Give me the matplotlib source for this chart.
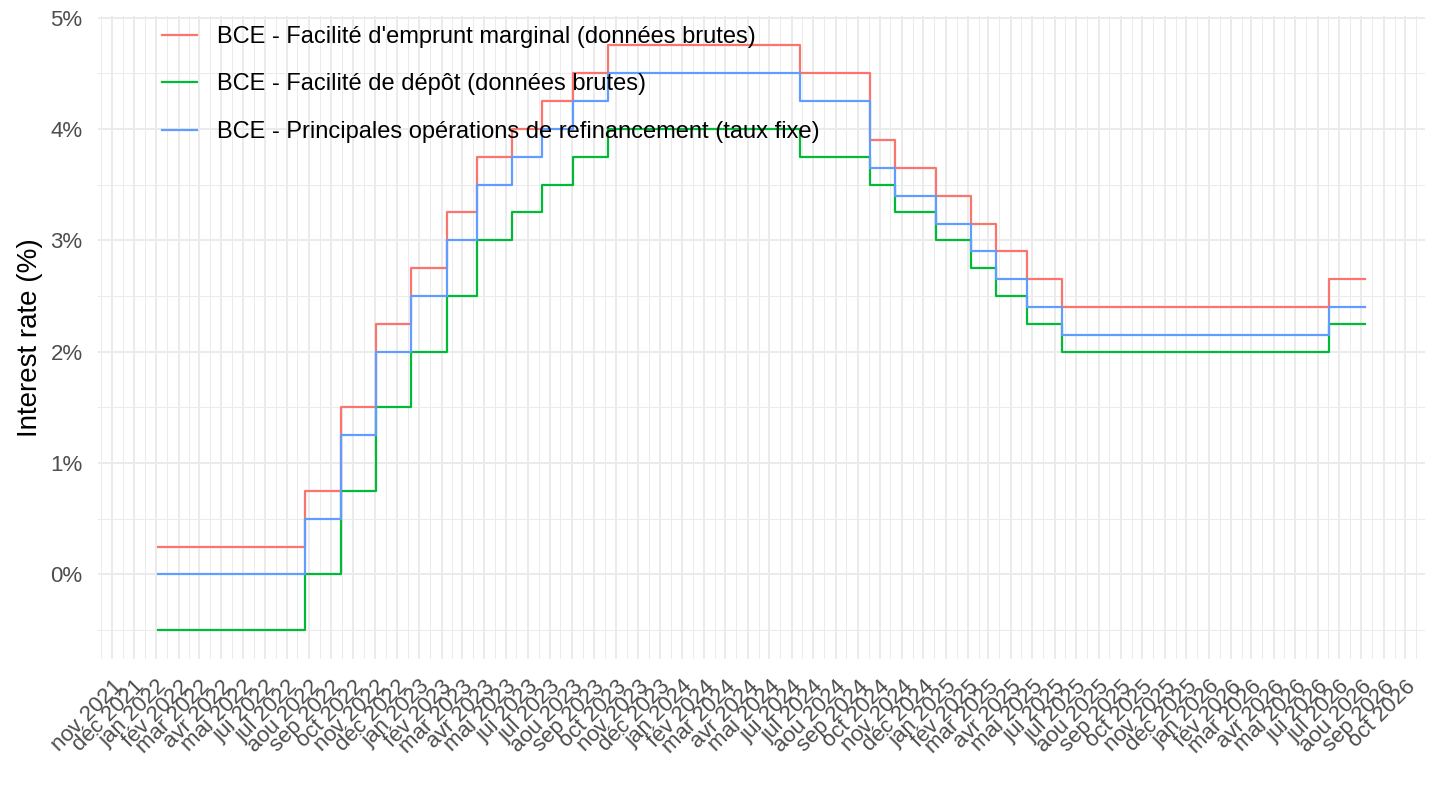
import datetime as dt
import matplotlib
matplotlib.use("Agg")
import matplotlib.pyplot as plt
import matplotlib.dates as mdates
from matplotlib.ticker import FuncFormatter, MultipleLocator

plt.rcParams['font.family'] = ['Liberation Sans', 'DejaVu Sans']

# ECB rates, step changes (effective dates)
start = dt.date(2022, 1, 3)
end = dt.date(2026, 8, 6)
change_dates = ["2022-07-27", "2022-09-14", "2022-11-02", "2022-12-21", "2023-02-08",
                "2023-03-22", "2023-05-10", "2023-06-21", "2023-08-02", "2023-09-20",
                "2024-06-12", "2024-09-18", "2024-10-23", "2024-12-18", "2025-02-05",
                "2025-03-12", "2025-04-23", "2025-06-11", "2026-06-17"]

mlf = [0.25, 0.75, 1.5, 2.25, 2.75, 3.25, 3.75, 4.0, 4.25, 4.5, 4.75,
       4.5, 3.9, 3.65, 3.4, 3.15, 2.9, 2.65, 2.4, 2.65]
df_rate = [-0.5, 0.0, 0.75, 1.5, 2.0, 2.5, 3.0, 3.25, 3.5, 3.75, 4.0,
           3.75, 3.5, 3.25, 3.0, 2.75, 2.5, 2.25, 2.0, 2.25]
mro = [0.0, 0.5, 1.25, 2.0, 2.5, 3.0, 3.5, 3.75, 4.0, 4.25, 4.5,
       4.25, 3.65, 3.4, 3.15, 2.9, 2.65, 2.4, 2.15, 2.4]

labels = ["BCE - Facilité d'emprunt marginal (données brutes)",
          "BCE - Facilité de dépôt (données brutes)",
          "BCE - Principales opérations de refinancement (taux fixe)"]
colors = ["#F8766D", "#00BA38", "#619CFF"]

month_names = ["jan", "fév", "mar", "avr", "mai", "jui", "jul", "aou", "sep", "oct", "nov", "déc"]

dates = [start] + [dt.date.fromisoformat(d) for d in change_dates] + [end]

fig = plt.figure(figsize=(14.4, 8.1), dpi=100)
ax = fig.add_axes([0.068, 0.186, 0.9215, 0.794])

for vals, lab, col in zip([mlf, df_rate, mro], labels, colors):
    ax.step(dates, vals + [vals[-1]], where='post', color=col, lw=1.6, label=lab)

# ggplot-like expansion of 5%
span = (end - start).days
ax.set_xlim(start - dt.timedelta(days=span * 0.05), end + dt.timedelta(days=span * 0.05))
ymin, ymax = -0.5, 4.75
ax.set_ylim(ymin - 0.05 * (ymax - ymin), ymax + 0.05 * (ymax - ymin))

ax.xaxis.set_major_locator(mdates.MonthLocator())
ax.xaxis.set_minor_locator(mdates.MonthLocator(bymonthday=16))
ax.xaxis.set_major_formatter(FuncFormatter(
    lambda x, pos: "%s %d" % (month_names[mdates.num2date(x).month - 1], mdates.num2date(x).year)))
ax.yaxis.set_major_locator(MultipleLocator(1))
ax.yaxis.set_minor_locator(MultipleLocator(0.5))
ax.yaxis.set_major_formatter(FuncFormatter(lambda y, pos: "%d%%" % round(y)))

ax.grid(which='major', color='#EBEBEB', lw=1.4)
ax.grid(which='minor', color='#EBEBEB', lw=0.7)
ax.set_axisbelow(True)
for s in ax.spines.values():
    s.set_visible(False)
ax.tick_params(which='both', length=0, colors='#4D4D4D', labelsize=16)
ax.tick_params(axis='y', pad=11)
ax.tick_params(axis='x', pad=12)
for t in ax.get_xticklabels():
    t.set_rotation(45)
    t.set_ha('right')
    t.set_va('top')
    t.set_rotation_mode('anchor')

ax.set_ylabel("Interest rate (%)", fontsize=20, color='black', labelpad=5)

leg = ax.legend(loc='upper left', bbox_to_anchor=(0.048, 0.985), frameon=False,
                fontsize=17, handlelength=1.5, handletextpad=0.85, labelspacing=1.08,
                borderpad=0, borderaxespad=0)

fig.savefig("out.png", dpi=100)
